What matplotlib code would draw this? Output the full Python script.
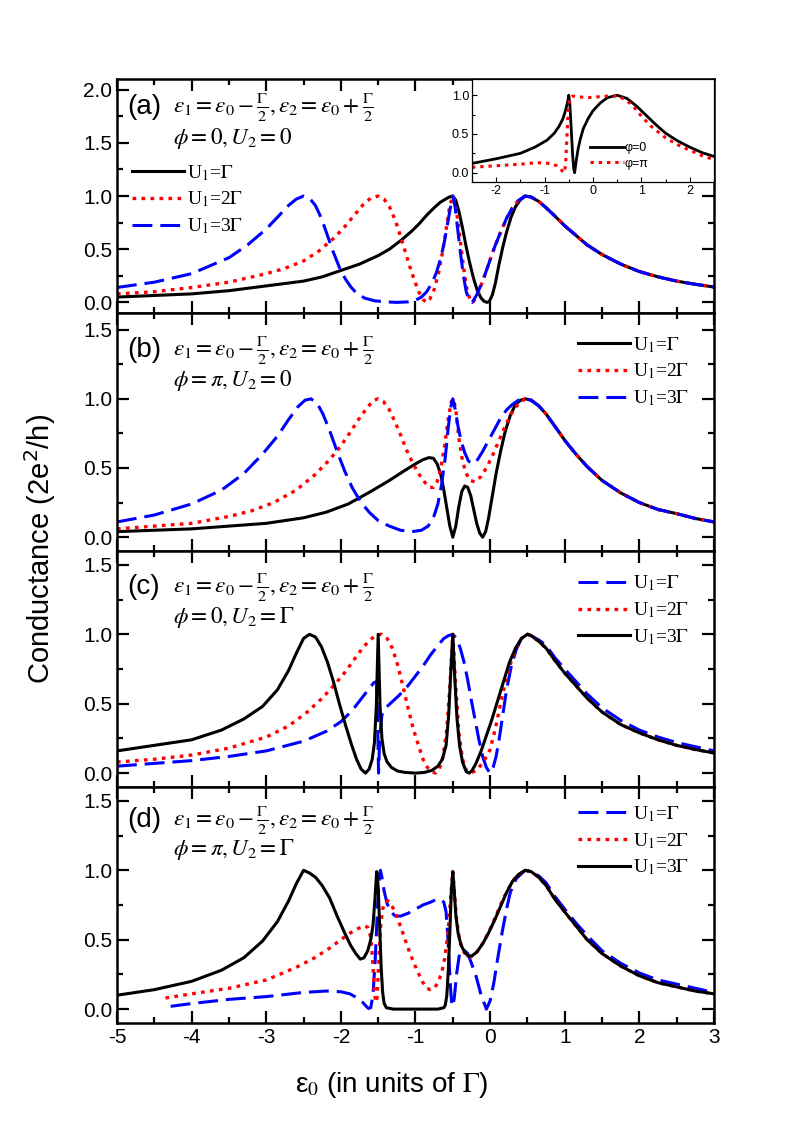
import matplotlib
matplotlib.use("Agg")
import matplotlib.pyplot as plt
from matplotlib.ticker import MultipleLocator, FormatStrFormatter

plt.rcParams['font.family'] = ['Liberation Sans', 'DejaVu Sans']
plt.rcParams['mathtext.fontset'] = 'stix'
plt.rcParams['axes.unicode_minus'] = False

# right-hand resonance tail (x > 0.5), read per panel
tail_x = [0.55, 0.65, 0.75, 0.87, 1.0, 1.15, 1.3, 1.5, 1.75, 2.0, 2.25, 2.5, 2.75, 3.0]
a_tail_y = [0.99, 0.95, 0.89, 0.81, 0.72, 0.63, 0.54, 0.45, 0.36, 0.29, 0.24, 0.2, 0.17, 0.145]
b_tail_y = [0.99, 0.95, 0.89, 0.8, 0.7, 0.6, 0.51, 0.41, 0.32, 0.25, 0.2, 0.17, 0.135, 0.11]
c_tail_y = [0.99, 0.95, 0.9, 0.81, 0.72, 0.63, 0.54, 0.44, 0.35, 0.29, 0.24, 0.2, 0.17, 0.145]
c_tail_y_blue = [0.99, 0.96, 0.92, 0.83, 0.75, 0.66, 0.57, 0.47, 0.38, 0.31, 0.26, 0.22, 0.19, 0.16]
d_tail_y = [0.99, 0.95, 0.89, 0.79, 0.7, 0.6, 0.5, 0.4, 0.31, 0.24, 0.19, 0.16, 0.13, 0.11]
d_tail_y_blue = [0.99, 0.96, 0.91, 0.81, 0.72, 0.62, 0.53, 0.42, 0.33, 0.26, 0.21, 0.18, 0.15, 0.12]

# ---- panel (a): phi = 0, U2 = 0 ----
a_x_g1 = [-5, -4.5, -4, -3.5, -3, -2.5, -2.25, -2, -1.75, -1.5, -1.35, -1.2, -1.05, -0.95, -0.85,
          -0.75, -0.67, -0.6, -0.55, -0.5, -0.46, -0.42, -0.37, -0.32, -0.27, -0.22, -0.17, -0.12,
          -0.08, -0.04, -0.01, 0.03, 0.07, 0.12, 0.17, 0.22, 0.28, 0.34, 0.4, 0.47]
a_y_g1 = [0.05, 0.065, 0.08, 0.11, 0.155, 0.2, 0.24, 0.3, 0.36, 0.44, 0.5, 0.58, 0.67, 0.74, 0.82,
          0.89, 0.94, 0.97, 0.99, 1.0, 0.96, 0.86, 0.7, 0.52, 0.36, 0.22, 0.11, 0.04,
          0.01, 0.0, 0.01, 0.07, 0.18, 0.36, 0.52, 0.66, 0.8, 0.9, 0.96, 1.0]
a_x_g2 = [-5, -4.5, -4, -3.5, -3, -2.75, -2.5, -2.3, -2.1, -1.95, -1.82, -1.7, -1.6, -1.5, -1.42,
          -1.35, -1.27, -1.2, -1.13, -1.06, -1.0, -0.95, -0.9, -0.86, -0.81, -0.75, -0.69, -0.63,
          -0.58, -0.54, -0.5, -0.47, -0.43, -0.39, -0.35, -0.31, -0.27, -0.23, -0.17, -0.1, -0.02,
          0.06, 0.14, 0.22, 0.3, 0.38, 0.47]
a_y_g2 = [0.08, 0.1, 0.14, 0.19, 0.27, 0.32, 0.39, 0.48, 0.6, 0.71, 0.82, 0.92, 0.98, 1.0, 0.97,
          0.9, 0.77, 0.62, 0.46, 0.3, 0.18, 0.09, 0.03, 0.0, 0.03, 0.12, 0.28, 0.5,
          0.73, 0.91, 1.0, 0.94, 0.76, 0.52, 0.3, 0.12, 0.03, 0.0, 0.07, 0.2, 0.36,
          0.52, 0.66, 0.79, 0.89, 0.96, 1.0]
a_x_g3 = [-5, -4.5, -4, -3.5, -3.25, -3.0, -2.85, -2.72, -2.6, -2.5, -2.42, -2.34, -2.26, -2.18,
          -2.1, -2.02, -1.94, -1.86, -1.78, -1.68, -1.55, -1.4, -1.25, -1.1, -1.0, -0.92, -0.85,
          -0.78, -0.72, -0.66, -0.61, -0.56, -0.52, -0.5, -0.47, -0.44, -0.4, -0.36, -0.32,
          -0.28, -0.24, -0.18, -0.1, -0.02, 0.06, 0.14, 0.22, 0.3, 0.38, 0.47]
a_y_g3 = [0.14, 0.19, 0.27, 0.42, 0.54, 0.69, 0.8, 0.9, 0.97, 1.0, 0.98, 0.91, 0.79, 0.63,
          0.47, 0.33, 0.22, 0.14, 0.08, 0.04, 0.015, 0.005, 0.0, 0.005, 0.02, 0.05, 0.1,
          0.18, 0.28, 0.42, 0.58, 0.78, 0.94, 1.0, 0.9, 0.72, 0.48, 0.26, 0.1,
          0.02, 0.0, 0.07, 0.2, 0.36, 0.52, 0.66, 0.79, 0.89, 0.96, 1.0]

# inset of (a): phi = 0 and phi = pi
in_x_0 = [-2.5, -2.0, -1.5, -1.2, -0.95, -0.8, -0.7, -0.62, -0.56, -0.52, -0.5, -0.48, -0.46,
          -0.44, -0.42, -0.4, -0.38, -0.35, -0.31, -0.26, -0.2, -0.1, 0.0, 0.15, 0.3, 0.5, 0.7,
          0.9, 1.1, 1.3, 1.5, 1.75, 2.0, 2.25, 2.5]
in_y_0 = [0.12, 0.18, 0.25, 0.33, 0.42, 0.51, 0.6, 0.7, 0.82, 0.93, 1.0, 0.9, 0.68,
          0.45, 0.22, 0.06, 0.0, 0.14, 0.3, 0.44, 0.57, 0.7, 0.8, 0.9, 0.97, 1.0, 0.96,
          0.86, 0.74, 0.62, 0.51, 0.41, 0.33, 0.26, 0.21]
in_x_pi = [-2.5, -2.0, -1.5, -1.15, -0.9, -0.75, -0.67, -0.62, -0.59, -0.565, -0.54, -0.515,
           -0.49, -0.46, -0.42, -0.3, -0.1, 0.1, 0.3, 0.5, 0.65, 0.8, 1.0, 1.2, 1.5, 1.75, 2.0,
           2.25, 2.5]
in_y_pi = [0.07, 0.09, 0.11, 0.13, 0.12, 0.09, 0.05, 0.01, 0.0, 0.12, 0.45, 0.78,
           0.93, 0.98, 0.99, 0.98, 0.97, 0.98, 0.99, 0.99, 0.95, 0.88, 0.73, 0.6, 0.45, 0.36, 0.29,
           0.22, 0.17]

# ---- panel (b): phi = pi, U2 = 0 ----
b_x_g1 = [-5, -4.5, -4, -3.5, -3, -2.5, -2.2, -1.9, -1.6, -1.35, -1.15, -1.0, -0.9, -0.82, -0.76,
          -0.71, -0.66, -0.62, -0.58, -0.54, -0.5, -0.46, -0.42, -0.38, -0.34, -0.3, -0.26, -0.22,
          -0.18, -0.14, -0.1, -0.06, -0.02, 0.03, 0.08, 0.14, 0.2, 0.27, 0.34, 0.41, 0.47]
b_y_g1 = [0.04, 0.05, 0.06, 0.08, 0.1, 0.14, 0.18, 0.24, 0.33, 0.41, 0.48, 0.53, 0.56, 0.575, 0.57,
          0.53, 0.45, 0.34, 0.21, 0.08, 0.0, 0.08, 0.22, 0.33, 0.37, 0.36, 0.3, 0.2,
          0.1, 0.03, 0.0, 0.04, 0.14, 0.3, 0.46, 0.62, 0.76, 0.88, 0.96, 0.99, 1.0]
b_x_g2 = [-5, -4.5, -4, -3.5, -3.2, -2.9, -2.6, -2.35, -2.15, -2.0, -1.86, -1.74, -1.64, -1.56,
          -1.5, -1.43, -1.36, -1.28, -1.2, -1.12, -1.04, -0.96, -0.88, -0.81, -0.76, -0.71, -0.66,
          -0.61, -0.56, -0.52, -0.49, -0.46, -0.42, -0.38, -0.33, -0.27, -0.2, -0.12, -0.04, 0.04,
          0.12, 0.2, 0.28, 0.36, 0.47]
b_y_g2 = [0.06, 0.08, 0.1, 0.15, 0.19, 0.25, 0.34, 0.45, 0.56, 0.66, 0.77, 0.87, 0.94, 0.99,
          1.0, 0.98, 0.93, 0.84, 0.74, 0.63, 0.54, 0.46, 0.4, 0.36, 0.36, 0.4, 0.5,
          0.66, 0.86, 0.98, 1.0, 0.92, 0.72, 0.58, 0.47, 0.41, 0.4, 0.44, 0.51, 0.6,
          0.7, 0.8, 0.89, 0.95, 1.0]
b_x_g3 = [-5, -4.5, -4, -3.6, -3.3, -3.05, -2.85, -2.7, -2.58, -2.48, -2.4, -2.32, -2.24, -2.15,
          -2.05, -1.95, -1.85, -1.74, -1.62, -1.5, -1.35, -1.2, -1.05, -0.92, -0.83, -0.76, -0.7,
          -0.65, -0.6, -0.56, -0.52, -0.5, -0.47, -0.43, -0.39, -0.34, -0.29, -0.24, -0.18, -0.1,
          -0.02, 0.06, 0.14, 0.22, 0.3, 0.38, 0.47]
b_y_g3 = [0.11, 0.16, 0.24, 0.34, 0.46, 0.6, 0.73, 0.85, 0.94, 0.99, 1.0, 0.97, 0.89, 0.77,
          0.62, 0.48, 0.36, 0.26, 0.18, 0.12, 0.08, 0.05, 0.04, 0.05, 0.08, 0.14, 0.24,
          0.38, 0.58, 0.8, 0.96, 1.0, 0.93, 0.8, 0.7, 0.61, 0.55, 0.53, 0.55, 0.62,
          0.7, 0.78, 0.86, 0.92, 0.96, 0.99, 1.0]

# ---- panel (c): phi = 0, U2 = Gamma ----
c_x_g1 = [-5, -4.5, -4, -3.5, -3, -2.5, -2.2, -2.0, -1.85, -1.72, -1.62, -1.56, -1.52, -1.505,
          -1.495, -1.48, -1.45, -1.4, -1.32, -1.22, -1.1, -1.0, -0.9, -0.8, -0.7, -0.62, -0.56,
          -0.5, -0.45, -0.4, -0.35, -0.3, -0.25, -0.2, -0.15, -0.1, -0.05, 0.0, 0.04, 0.08, 0.12,
          0.17, 0.22, 0.28, 0.35, 0.42, 0.5]
c_y_g1 = [0.05, 0.07, 0.09, 0.12, 0.16, 0.23, 0.3, 0.37, 0.45, 0.54, 0.61, 0.65, 0.66, 0.3,
          0.0, 0.25, 0.42, 0.47, 0.51, 0.56, 0.63, 0.7, 0.77, 0.85, 0.92, 0.97, 0.99,
          1.0, 0.97, 0.9, 0.8, 0.67, 0.52, 0.38, 0.24, 0.12, 0.04, 0.0, 0.04, 0.12, 0.24,
          0.42, 0.6, 0.76, 0.89, 0.97, 1.0]
c_x_g2 = [-5, -4.5, -4, -3.5, -3, -2.7, -2.45, -2.25, -2.08, -1.94, -1.82, -1.71, -1.61, -1.52,
          -1.45, -1.38, -1.31, -1.24, -1.17, -1.1, -1.03, -0.96, -0.9, -0.84, -0.78, -0.73, -0.68,
          -0.63, -0.58, -0.54, -0.5, -0.46, -0.42, -0.37, -0.32, -0.27, -0.22, -0.15, -0.08, 0.0,
          0.07, 0.14, 0.21, 0.28, 0.35, 0.42, 0.5]
c_y_g2 = [0.08, 0.1, 0.13, 0.18, 0.26, 0.34, 0.44, 0.54, 0.64, 0.73, 0.82, 0.9, 0.96, 0.995,
          1.0, 0.97, 0.9, 0.78, 0.63, 0.47, 0.32, 0.2, 0.1, 0.04, 0.01, 0.0, 0.03,
          0.12, 0.32, 0.62, 1.0, 0.62, 0.3, 0.1, 0.02, 0.0, 0.01, 0.04, 0.09, 0.17,
          0.32, 0.5, 0.67, 0.8, 0.9, 0.97, 1.0]
c_x_g3 = [-5, -4.5, -4, -3.6, -3.3, -3.05, -2.85, -2.7, -2.6, -2.5, -2.42, -2.34, -2.26, -2.18,
          -2.1, -2.02, -1.94, -1.86, -1.79, -1.73, -1.67, -1.62, -1.58, -1.55, -1.525, -1.5,
          -1.475, -1.45, -1.42, -1.38, -1.32, -1.24, -1.14, -1.0, -0.88, -0.78, -0.7, -0.64,
          -0.59, -0.555, -0.525, -0.5, -0.475, -0.445, -0.41, -0.37, -0.32, -0.28, -0.24, -0.19,
          -0.12, -0.05, 0.02, 0.1, 0.18, 0.26, 0.34, 0.42, 0.5]
c_y_g3 = [0.16, 0.2, 0.24, 0.31, 0.39, 0.48, 0.6, 0.74, 0.86, 0.97, 1.0, 0.98, 0.91, 0.8,
          0.66, 0.5, 0.35, 0.21, 0.1, 0.03, 0.0, 0.03, 0.1, 0.22, 0.48, 1.0,
          0.48, 0.25, 0.14, 0.08, 0.04, 0.015, 0.005, 0.0, 0.005, 0.02, 0.05, 0.1,
          0.2, 0.42, 0.75, 1.0, 0.7, 0.4, 0.2, 0.08, 0.01, 0.0, 0.02, 0.07,
          0.16, 0.27, 0.38, 0.52, 0.66, 0.8, 0.9, 0.97, 1.0]

# ---- panel (d): phi = pi, U2 = Gamma ----
d_x_g1 = [-4.28, -4.0, -3.5, -3.0, -2.5, -2.2, -2.0, -1.88, -1.78, -1.71, -1.66, -1.63, -1.6,
          -1.57, -1.54, -1.51, -1.485, -1.47, -1.45, -1.42, -1.38, -1.33, -1.27, -1.2, -1.1, -1.0,
          -0.9, -0.8, -0.72, -0.66, -0.62, -0.59, -0.57, -0.55, -0.53, -0.515, -0.5, -0.48,
          -0.45, -0.41, -0.36, -0.3, -0.25, -0.19, -0.12, -0.05, 0.0, 0.05, 0.1, 0.16, 0.22,
          0.27, 0.35, 0.47]
d_y_g1 = [0.02, 0.04, 0.07, 0.09, 0.12, 0.13, 0.125, 0.11, 0.08, 0.05, 0.02, 0.005, 0.01,
          0.1, 0.35, 0.72, 0.96, 1.0, 0.95, 0.85, 0.76, 0.7, 0.67, 0.67, 0.69, 0.72,
          0.75, 0.77, 0.79, 0.79, 0.77, 0.7, 0.55, 0.35, 0.15, 0.04, 0.02, 0.08,
          0.25, 0.4, 0.43, 0.4, 0.33, 0.24, 0.1, 0.0, 0.06, 0.19, 0.36, 0.55, 0.72,
          0.84, 0.94, 1.0]
d_x_g2 = [-4.35, -4.0, -3.5, -3.0, -2.6, -2.35, -2.15, -2.0, -1.87, -1.77, -1.69, -1.64, -1.6,
          -1.575, -1.555, -1.535, -1.515, -1.495, -1.47, -1.44, -1.41, -1.37, -1.32, -1.26, -1.19,
          -1.12, -1.05, -0.98, -0.91, -0.85, -0.8, -0.75, -0.7, -0.65, -0.61, -0.57, -0.54,
          -0.515, -0.5, -0.48, -0.45, -0.41, -0.36, -0.3, -0.23, -0.15, -0.07, 0.02, 0.1, 0.18,
          0.26, 0.34, 0.47]
d_y_g2 = [0.08, 0.11, 0.15, 0.21, 0.3, 0.37, 0.44, 0.5, 0.55, 0.58, 0.6, 0.59, 0.52,
          0.36, 0.16, 0.05, 0.08, 0.3, 0.58, 0.72, 0.77, 0.78, 0.75, 0.68, 0.58,
          0.47, 0.37, 0.28, 0.2, 0.15, 0.14, 0.15, 0.19, 0.26, 0.36, 0.52, 0.72,
          0.9, 0.99, 0.85, 0.65, 0.5, 0.42, 0.37, 0.38, 0.43, 0.5, 0.6, 0.7, 0.8,
          0.88, 0.95, 1.0]
d_x_g3 = [-5, -4.5, -4, -3.6, -3.3, -3.05, -2.85, -2.7, -2.6, -2.5, -2.42, -2.34, -2.25, -2.15,
          -2.05, -1.95, -1.87, -1.8, -1.74, -1.69, -1.64, -1.6, -1.57, -1.545, -1.52, -1.5, -1.48,
          -1.46, -1.44, -1.42, -1.39, -1.3, -1.0, -0.7, -0.62, -0.6, -0.58, -0.56, -0.54, -0.52,
          -0.5, -0.48, -0.46, -0.43, -0.39, -0.34, -0.29, -0.24, -0.18, -0.1, -0.02, 0.06, 0.14,
          0.22, 0.3, 0.38, 0.47]
d_y_g3 = [0.1, 0.14, 0.2, 0.28, 0.37, 0.49, 0.63, 0.78, 0.9, 1.0, 0.98, 0.95, 0.89, 0.8,
          0.67, 0.55, 0.46, 0.4, 0.36, 0.37, 0.42, 0.5, 0.6, 0.78, 0.99, 0.88, 0.6,
          0.3, 0.12, 0.04, 0.01, 0.0, 0.0, 0.0, 0.01, 0.03, 0.1, 0.28, 0.55, 0.85,
          0.99, 0.85, 0.68, 0.55, 0.46, 0.41, 0.38, 0.385, 0.41, 0.47, 0.55, 0.64, 0.74,
          0.84, 0.92, 0.97, 1.0]

legend_labels = [r'U$_1$=$\Gamma$', r'U$_1$=2$\Gamma$', r'U$_1$=3$\Gamma$']
eq_line = r'$\varepsilon_1=\varepsilon_0-\frac{\Gamma}{2},\varepsilon_2=\varepsilon_0+\frac{\Gamma}{2}$'
phi_lines = [r'$\phi=0,U_2=0$', r'$\phi=\pi,U_2=0$', r'$\phi=0,U_2=\Gamma$', r'$\phi=\pi,U_2=\Gamma$']
panel_tags = ['(a)', '(b)', '(c)', '(d)']

SOLID = dict(color='black', lw=2.2, ls='-')
DOT = dict(color='red', lw=2.4, ls=(0, (1.1, 1.6)))
DASH = dict(color='blue', lw=2.2, ls=(0, (6.5, 2.6)))


def styleAxis(ax, ymax, ylabels):
    ax.set_xlim(-5, 3)
    ax.set_ylim(-0.1, ymax)
    ax.xaxis.set_major_locator(MultipleLocator(1))
    ax.xaxis.set_minor_locator(MultipleLocator(0.5))
    ax.yaxis.set_minor_locator(MultipleLocator(0.25))
    ax.set_yticks(ylabels)
    ax.yaxis.set_major_formatter(FormatStrFormatter('%.1f'))
    ax.tick_params(which='both', direction='in', top=True, right=True, width=1.6, labelsize=15)
    ax.tick_params(which='major', length=8.5)
    ax.tick_params(which='minor', length=4.5)
    for s in ax.spines.values():
        s.set_linewidth(1.8)


def addTexts(ax, idx, h_px, dy_eq, dy_phi):
    ax.text(0.017, 1 - dy_eq / h_px, panel_tags[idx], transform=ax.transAxes,
            fontsize=20, va='center', ha='left')
    ax.text(0.094, 1 - dy_eq / h_px, eq_line, transform=ax.transAxes,
            fontsize=16.7, va='center', ha='left')
    ax.text(0.094, 1 - dy_phi / h_px, phi_lines[idx], transform=ax.transAxes,
            fontsize=16.7, va='center', ha='left')


fig = plt.figure(figsize=(7.93, 11.34), dpi=100)
gs = fig.add_gridspec(4, 1, left=0.1475, right=0.9004, top=0.9303, bottom=0.0979,
                      hspace=0, height_ratios=[234, 238, 236, 236])
axes = [fig.add_subplot(gs[i]) for i in range(4)]

leg_kw = dict(frameon=False, handlelength=2.7, handletextpad=0.15,
              labelspacing=0.36, borderpad=0, borderaxespad=0,
              prop={'family': 'Liberation Serif', 'size': 14})

# (a)
ax = axes[0]
ax.plot(a_x_g1 + tail_x, a_y_g1 + a_tail_y, label=legend_labels[0], **SOLID)
ax.plot(a_x_g2 + tail_x, a_y_g2 + a_tail_y, label=legend_labels[1], **DOT)
ax.plot(a_x_g3 + tail_x, a_y_g3 + a_tail_y, label=legend_labels[2], **DASH)
styleAxis(ax, 2.1, [0, 0.5, 1.0, 1.5, 2.0])
addTexts(ax, 0, 234, 28, 59)
ax.legend(loc='upper left', bbox_to_anchor=(0.025, 0.641), **leg_kw)

# (b)
ax = axes[1]
ax.plot(b_x_g1 + tail_x, b_y_g1 + b_tail_y, label=legend_labels[0], **SOLID)
ax.plot(b_x_g2 + tail_x, b_y_g2 + b_tail_y, label=legend_labels[1], **DOT)
ax.plot(b_x_g3 + tail_x, b_y_g3 + b_tail_y, label=legend_labels[2], **DASH)
styleAxis(ax, 1.62, [0, 0.5, 1.0, 1.5])
addTexts(ax, 1, 238, 37, 67)
ax.legend(loc='upper right', bbox_to_anchor=(0.958, 0.908), **leg_kw)

# (c)
ax = axes[2]
ax.plot(c_x_g1 + tail_x, c_y_g1 + c_tail_y_blue, label=legend_labels[0], **DASH)
ax.plot(c_x_g2 + tail_x, c_y_g2 + c_tail_y, label=legend_labels[1], **DOT)
ax.plot(c_x_g3 + tail_x, c_y_g3 + c_tail_y, label=legend_labels[2], **SOLID)
styleAxis(ax, 1.6, [0, 0.5, 1.0, 1.5])
addTexts(ax, 2, 236, 36, 66)
ax.legend(loc='upper right', bbox_to_anchor=(0.958, 0.904), **leg_kw)

# (d)
ax = axes[3]
ax.plot(d_x_g1 + tail_x, d_y_g1 + d_tail_y_blue, label=legend_labels[0], **DASH)
ax.plot(d_x_g2 + tail_x, d_y_g2 + d_tail_y, label=legend_labels[1], **DOT)
ax.plot(d_x_g3 + tail_x, d_y_g3 + d_tail_y, label=legend_labels[2], **SOLID)
styleAxis(ax, 1.6, [0, 0.5, 1.0, 1.5])
addTexts(ax, 3, 236, 33, 63)
ax.legend(loc='upper right', bbox_to_anchor=(0.958, 0.927), **leg_kw)

for ax in axes[:3]:
    ax.tick_params(labelbottom=False)

# inset in (a)
ins = fig.add_axes([472 / 793, 1 - 182 / 1134, (714 - 472) / 793, (182 - 79) / 1134])
ins.plot(in_x_0, in_y_0, label='φ=0', color='black', lw=2.0)
ins.plot(in_x_pi, in_y_pi, label='φ=π', color='red', lw=2.2, ls=(0, (1.1, 1.6)))
ins.set_xlim(-2.5, 2.5)
ins.set_ylim(-0.12, 1.21)
ins.xaxis.set_major_locator(MultipleLocator(1))
ins.xaxis.set_minor_locator(MultipleLocator(0.5))
ins.yaxis.set_major_locator(MultipleLocator(0.5))
ins.yaxis.set_minor_locator(MultipleLocator(0.25))
ins.yaxis.set_major_formatter(FormatStrFormatter('%.1f'))
ins.tick_params(which='both', direction='in', labelsize=9, width=0.8, pad=2)
ins.tick_params(which='major', length=3.5)
ins.tick_params(which='minor', length=2)
for s in ins.spines.values():
    s.set_linewidth(0.9)
ins.legend(loc='lower right', bbox_to_anchor=(0.73, 0.12), frameon=False, fontsize=9,
           handlelength=2.7, handletextpad=0.1, labelspacing=0.3, borderpad=0, borderaxespad=0)

fig.text(40 / 793, 1 - 549 / 1134, r'Conductance (2e$^{2}$/h)', rotation=90,
         fontsize=21, ha='center', va='center', math_fontfamily='dejavusans')
fig.text(392 / 793, 1 - 1085 / 1134, r'ε$_0$ (in units of $\Gamma$)', fontsize=20,
         ha='center', va='center')

fig.savefig('out.png', dpi=100)
